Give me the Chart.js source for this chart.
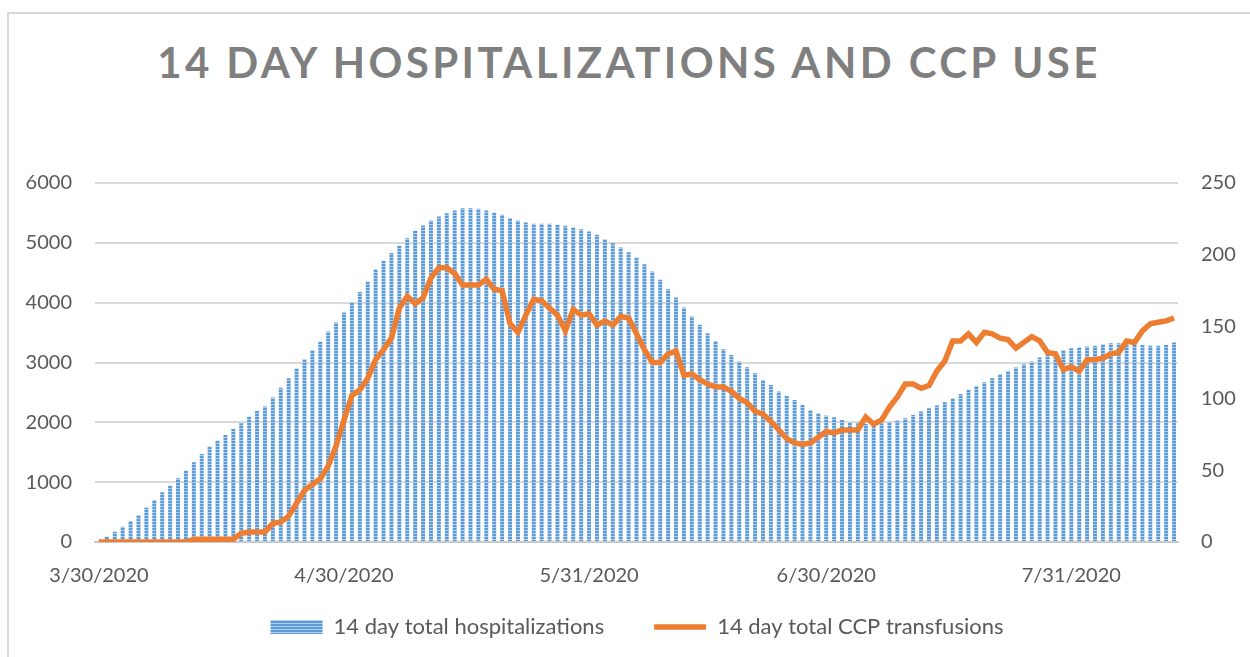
<!DOCTYPE html>
<html>
<head>
<meta charset="utf-8">
<script src="https://cdn.jsdelivr.net/npm/chart.js@4/dist/chart.umd.min.js"></script>
<style>
  body { margin: 0; background: #fff; }
  #wrap { position: relative; width: 1250px; height: 657px; overflow: hidden; }
  #frame { position: absolute; left: 7px; top: 12px; width: 1300px; height: 700px; border: 2px solid #d9d9d9; }
  #title { position: absolute; left: 0; top: 41px; width: 1258px; text-align: center;
    font: bold 42px/42px Lato, sans-serif; letter-spacing: 3.4px; color: #7f7f7f; }
  canvas { position: absolute; left: 0; top: 0; }
</style>
</head>
<body>
<div id="wrap">
  <div id="frame"></div>
  <div id="title">14 DAY HOSPITALIZATIONS AND CCP USE</div>
  <canvas id="myChart" width="1250" height="657"></canvas>
</div>
<script>
// one value per day starting 3/30/2020
const startDate = [2020, 3, 30];

const hospitalizations = [
  20, 90, 172, 256, 351, 451, 574, 702, 831, 942,
  1065, 1192, 1333, 1472, 1594, 1694, 1789, 1890, 1985, 2095,
  2190, 2263, 2413, 2580, 2737, 2904, 3055, 3211, 3350, 3517,
  3667, 3834, 4002, 4180, 4353, 4560, 4699, 4828, 4950, 5078,
  5200, 5290, 5373, 5440, 5496, 5540, 5580, 5580, 5569, 5540,
  5507, 5468, 5413, 5373, 5340, 5318, 5318, 5318, 5301, 5284,
  5262, 5229, 5189, 5134, 5061, 4994, 4922, 4844, 4755, 4643,
  4521, 4381, 4225, 4086, 3919, 3768, 3629, 3490, 3361, 3222,
  3127, 3016, 2921, 2821, 2709, 2625, 2514, 2441, 2375, 2291,
  2207, 2151, 2113, 2085, 2040, 1996, 1984, 1973, 1984, 1984,
  2001, 2029, 2068, 2124, 2179, 2235, 2280, 2335, 2402, 2475,
  2542, 2609, 2670, 2737, 2804, 2860, 2916, 2971, 3016, 3083,
  3138, 3183, 3211, 3239, 3255, 3267, 3278, 3306, 3322, 3322,
  3322, 3311, 3294, 3278, 3278, 3294, 3334
];

const ccpTransfusions = [
  0, 0, 0, 0, 0, 0, 0, 0, 0, 0,
  0, 0, 2, 2, 2, 2, 2, 2, 6, 7,
  7, 7, 13, 14, 18, 27, 36, 40, 44, 53,
  67, 85, 102, 106, 114, 127, 134, 142, 163, 171,
  166, 170, 184, 191, 191, 187, 179, 179, 179, 183,
  176, 175, 152, 146, 158, 169, 168, 163, 158, 147,
  162, 158, 159, 151, 154, 151, 157, 156, 145, 134,
  125, 125, 131, 133, 116, 117, 113, 110, 108, 108,
  105, 100, 97, 91, 89, 84, 78, 72, 69, 68,
  69, 73, 77, 76, 78, 78, 78, 87, 82, 85,
  94, 101, 110, 110, 107, 109, 119, 126, 140, 140,
  145, 139, 146, 145, 142, 141, 135, 139, 143, 140,
  132, 131, 120, 122, 119, 127, 127, 128, 131, 132,
  140, 139, 147, 152, 153, 154, 156
];

const tickLabels = ['3/30/2020', '4/30/2020', '5/31/2020', '6/30/2020', '7/31/2020'];
const leftTicks = [0, 1000, 2000, 3000, 4000, 5000, 6000];
const rightTicks = [0, 50, 100, 150, 200, 250];

const categories = [];
for (var i = 0; i < hospitalizations.length; i++) {
  var d = new Date(startDate[0], startDate[1] - 1, startDate[2] + i);
  categories.push((d.getMonth() + 1) + '/' + d.getDate() + '/' + d.getFullYear());
}

function barPattern() {
  const c = document.createElement('canvas');
  c.width = 4; c.height = 3;
  const g = c.getContext('2d');
  g.fillStyle = '#b3cfee';
  g.fillRect(0, 0, 4, 3);
  g.fillStyle = '#5b9bd5';
  g.fillRect(0, 0, 4, 2);
  return g.createPattern(c, 'repeat');
}

// move the legend row up/right after layout so it sits like the original
const legendShift = {
  id: 'legendShift',
  afterLayout: function(chart) {
    const lg = chart.legend;
    lg.top -= 22;
    lg.left += 12; lg.right += 12;
  }
};

const textColor = '#595959';
const ctx = document.getElementById('myChart');

const myChart = new Chart(ctx, {
  type: 'bar',
  plugins: [legendShift],
  data: {
    labels: categories,
    datasets: [{
      label: '14 day total hospitalizations',
      data: hospitalizations,
      backgroundColor: barPattern(),
      borderWidth: 0,
      barPercentage: 0.5,
      categoryPercentage: 1,
      pointStyle: 'rect',
      yAxisID: 'y',
      order: 1
    }, {
      type: 'line',
      label: '14 day total CCP transfusions',
      data: ccpTransfusions,
      borderColor: '#ed7d31',
      backgroundColor: '#ed7d31',
      borderWidth: 5.5,
      pointRadius: 0,
      pointStyle: 'line',
      tension: 0,
      yAxisID: 'y1',
      order: 0
    }]
  },
  options: {
    responsive: false,
    animation: false,
    layout: { padding: { top: 183, left: 0, right: 0, bottom: 0 } },
    plugins: {
      tooltip: { enabled: false },
      legend: {
        position: 'bottom',
        maxHeight: 69,
        labels: {
          usePointStyle: true,
          pointStyleWidth: 52,
          boxWidth: 52,
          boxHeight: 14,
          padding: 50,
          color: textColor,
          font: { family: 'Lato', size: 22 },
          sort: function(a, b) { return a.datasetIndex - b.datasetIndex; }
        }
      }
    },
    scales: {
      x: {
        offset: true,
        grid: { display: false, drawTicks: false },
        border: { display: true, color: '#c9c9c9', width: 2 },
        afterFit: function(scale) { scale.height = 46; },
        ticks: {
          autoSkip: false,
          maxRotation: 0,
          padding: 22,
          color: textColor,
          font: { family: 'Lato', size: 20 },
          callback: function(value, index) {
            return tickLabels.includes(categories[index]) ? categories[index] : '';
          }
        }
      },
      y: {
        position: 'left',
        min: leftTicks[0],
        max: leftTicks[leftTicks.length - 1],
        afterBuildTicks: function(scale) { scale.ticks = leftTicks.map(v => ({ value: v })); },
        afterFit: function(scale) { scale.width = 95; },
        grid: { color: '#d9d9d9', lineWidth: 2, drawTicks: false },
        border: { display: false },
        ticks: {
          padding: 23, color: textColor, font: { family: 'Lato', size: 20 },
          callback: function(v) { return String(v); }
        }
      },
      y1: {
        position: 'right',
        min: rightTicks[0],
        max: rightTicks[rightTicks.length - 1],
        afterBuildTicks: function(scale) { scale.ticks = rightTicks.map(v => ({ value: v })); },
        afterFit: function(scale) { scale.width = 72; },
        grid: { drawOnChartArea: false, drawTicks: false },
        border: { display: false },
        ticks: {
          padding: 23, color: textColor, font: { family: 'Lato', size: 20 },
          callback: function(v) { return String(v); }
        }
      }
    }
  }
});
</script>
</body>
</html>
